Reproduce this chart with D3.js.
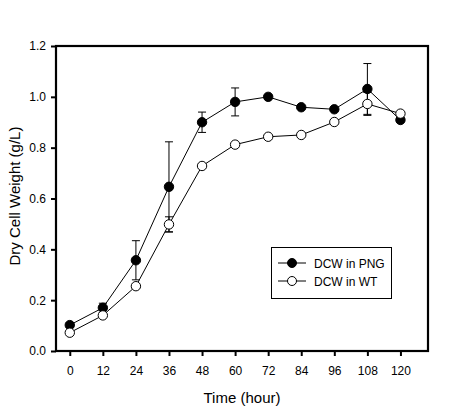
<!DOCTYPE html>
<html><head><meta charset="utf-8">
<script src="https://cdn.jsdelivr.net/npm/d3@7"></script>
<style>body{margin:0;background:#fff}svg{display:block}text{font-family:"Liberation Sans",Arial,sans-serif;fill:#000}</style>
</head><body>
<svg id="c" width="452" height="413"></svg>
<script>
const hours = [0,12,24,36,48,60,72,84,96,108,120];
const pngValues = [0.102,0.170,0.357,0.646,0.900,0.980,1.000,0.959,0.951,1.031,0.909];
const pngErrors = [0.008,0.018,0.077,0.177,0.040,0.055,0.006,0.006,0.006,0.100,0.006];
const wtValues  = [0.072,0.140,0.255,0.498,0.728,0.812,0.843,0.850,0.901,0.972,0.934];
const wtErrors  = [0.005,0.005,0.008,0.030,0.008,0.008,0.006,0.006,0.006,0.045,0.006];
const yTicks = [0,0.2,0.4,0.6,0.8,1.0,1.2];
const xTicks = [0,12,24,36,48,60,72,84,96,108,120];
const seriesNames = ["DCW in PNG","DCW in WT"];

const svg = d3.select("#c");
const L=56, R=428, T=46, B=351;
const x = d3.scaleLinear().domain([-5,130]).range([L,R]);
const y = d3.scaleLinear().domain([0,1.2]).range([B,T]);

// frame
svg.append("rect").attr("x",L).attr("y",T).attr("width",R-L).attr("height",B-T)
  .attr("fill","none").attr("stroke","#000").attr("stroke-width",2.2);

// y axis
const ya = svg.append("g").attr("transform",`translate(${L},0)`)
  .call(d3.axisLeft(y).tickValues(yTicks).tickFormat(d3.format(".1f")).tickSize(5).tickPadding(5));
ya.select(".domain").remove();
ya.selectAll("line").attr("stroke-width",2);
ya.selectAll("text").attr("font-size",12).style("font-family","Liberation Sans, Arial");

// x axis
const xa = svg.append("g").attr("transform",`translate(0,${B})`)
  .call(d3.axisBottom(x).tickValues(xTicks).tickSize(5).tickPadding(10));
xa.select(".domain").remove();
xa.selectAll("line").attr("stroke-width",2);
xa.selectAll("text").attr("font-size",12).style("font-family","Liberation Sans, Arial");

// titles
svg.append("text").attr("x",242).attr("y",403).attr("text-anchor","middle").attr("font-size",15).text("Time (hour)");
svg.append("text").attr("transform","translate(20,196) rotate(-90)").attr("text-anchor","middle").attr("font-size",15).text("Dry Cell Weight (g/L)");

function drawSeries(vals, errs, fill){
  const data = hours.map((h,i)=>({h,v:vals[i],e:errs[i]}));
  const g = svg.append("g");
  g.append("path").datum(data).attr("fill","none").attr("stroke","#000").attr("stroke-width",1)
    .attr("d", d3.line().x(d=>x(d.h)).y(d=>y(d.v)));
  const eb = g.selectAll(".eb").data(data).enter().append("g");
  eb.append("line").attr("x1",d=>x(d.h)).attr("x2",d=>x(d.h)).attr("y1",d=>y(d.v+d.e)).attr("y2",d=>y(d.v-d.e)).attr("stroke","#000").attr("stroke-width",1);
  eb.append("line").attr("x1",d=>x(d.h)-4).attr("x2",d=>x(d.h)+4).attr("y1",d=>y(d.v+d.e)).attr("y2",d=>y(d.v+d.e)).attr("stroke","#000").attr("stroke-width",1);
  eb.append("line").attr("x1",d=>x(d.h)-4).attr("x2",d=>x(d.h)+4).attr("y1",d=>y(d.v-d.e)).attr("y2",d=>y(d.v-d.e)).attr("stroke","#000").attr("stroke-width",1);
  g.selectAll("circle").data(data).enter().append("circle")
    .attr("cx",d=>x(d.h)).attr("cy",d=>y(d.v)).attr("r",4.7)
    .attr("fill",fill).attr("stroke","#000").attr("stroke-width",1);
}
drawSeries(pngValues,pngErrors,"#000");
drawSeries(wtValues,wtErrors,"#fff");

// legend
const lg = svg.append("g");
lg.append("rect").attr("x",271.5).attr("y",247.5).attr("width",120).attr("height",51).attr("fill","#fff").attr("stroke","#000").attr("stroke-width",1);
const fills=["#000","#fff"];
seriesNames.forEach((n,i)=>{
  const yy = 263 + i*18;
  lg.append("line").attr("x1",278).attr("x2",306).attr("y1",yy).attr("y2",yy).attr("stroke","#000").attr("stroke-width",1);
  lg.append("circle").attr("cx",292).attr("cy",yy).attr("r",4.5).attr("fill",fills[i]).attr("stroke","#000");
  lg.append("text").attr("x",314).attr("y",yy+4.5).attr("font-size",12).text(n);
});
</script>
</body></html>
